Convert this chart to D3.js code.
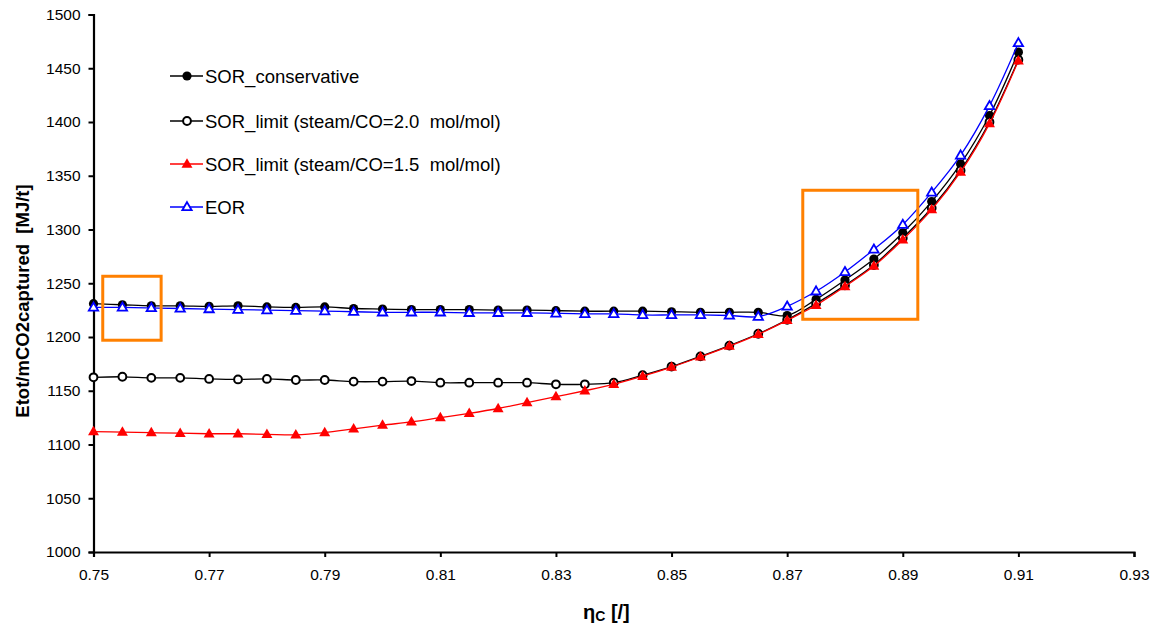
<!DOCTYPE html>
<html>
<head>
<meta charset="utf-8">
<script src="https://cdn.jsdelivr.net/npm/d3@7"></script>
<style>
  body { margin: 0; background: #fff; }
  text { font-family: "Liberation Sans", Arial, sans-serif; white-space: pre; }
</style>
</head>
<body>
<script>
// efficiency values (x)
const etaC = [0.75, 0.755, 0.76, 0.765, 0.77, 0.775, 0.78, 0.785, 0.79, 0.795,
  0.80, 0.805, 0.81, 0.815, 0.82, 0.825, 0.83, 0.835, 0.84, 0.845,
  0.85, 0.855, 0.86, 0.865, 0.87, 0.875, 0.88, 0.885, 0.89, 0.895,
  0.90, 0.905, 0.91];

const sorConservative = [1231, 1230, 1229, 1229, 1228.5, 1229, 1228, 1227.5, 1228, 1226.5,
  1226, 1225.5, 1225.5, 1225.5, 1225, 1225, 1224.5, 1224, 1224, 1224,
  1223.5, 1223, 1223, 1223, 1220, 1235, 1253, 1272.5, 1297, 1326,
  1361, 1406, 1465];

const sorLimit20 = [1162.5, 1163, 1162, 1162, 1161, 1160.5, 1161, 1160, 1160, 1158.5,
  1158.5, 1159, 1157.5, 1157.5, 1157.5, 1157.5, 1156, 1156, 1157.5, 1164.5,
  1172.5, 1182, 1192, 1203, 1216, 1231, 1248, 1267, 1292, 1320,
  1355, 1400, 1458];

const sorLimit15 = [1112, 1111.5, 1111, 1110.5, 1110, 1110, 1109.5, 1109, 1111, 1114.5,
  1118, 1121, 1125, 1129, 1133.5, 1139, 1144.5, 1150, 1156, 1163.5,
  1172, 1181.5, 1191.5, 1202.5, 1215.5, 1229.5, 1247, 1266, 1290.5, 1318.5,
  1353.5, 1398.5, 1457];

const eor = [1227.5, 1227.5, 1227, 1226.5, 1226, 1225.5, 1225, 1224.5, 1224, 1223.5,
  1223, 1223, 1223, 1222.5, 1222.5, 1222.5, 1222, 1221.5, 1221.5, 1220.5,
  1220.5, 1220.5, 1220, 1219, 1228.5, 1242.5, 1260.5, 1281.5, 1304.5, 1334.5,
  1369, 1415, 1473.5];

const seriesNames = ["SOR_conservative", "SOR_limit (steam/CO=2.0  mol/mol)",
  "SOR_limit (steam/CO=1.5  mol/mol)", "EOR"];

const xTicks = [0.75, 0.77, 0.79, 0.81, 0.83, 0.85, 0.87, 0.89, 0.91, 0.93];
const yTicks = [1000, 1050, 1100, 1150, 1200, 1250, 1300, 1350, 1400, 1450, 1500];

// highlight boxes in data units: [x0, x1, y0, y1]
const boxes = [[0.7516, 0.7617, 1197, 1256.5], [0.8727, 0.8926, 1216.5, 1336.5]];

const svgWidth = 1158, svgHeight = 627;
const margin = { top: 14.5, left: 93.5 };
const width = 1134 - margin.left;
const height = 552 - margin.top;

const svg = d3.select("body").append("svg")
  .attr("width", svgWidth)
  .attr("height", svgHeight);

const g = svg.append("g")
  .attr("transform", `translate(${margin.left},${margin.top})`);

const x = d3.scaleLinear().domain([0.75, 0.93]).range([0, width]);
const y = d3.scaleLinear().domain([1000, 1500]).range([height, 0]);

// axes
const xAxis = g.append("g")
  .attr("transform", `translate(0,${height})`)
  .call(d3.axisBottom(x).tickValues(xTicks).tickFormat(d3.format(".2f")).tickSize(5).tickPadding(12));
const yAxis = g.append("g")
  .call(d3.axisLeft(y).tickValues(yTicks).tickFormat(d3.format("d")).tickSize(5).tickPadding(8));

[xAxis, yAxis].forEach(a => {
  a.select(".domain").attr("stroke", "#000").attr("stroke-width", 2.2);
  a.selectAll(".tick line").attr("stroke", "#000").attr("stroke-width", 2);
  a.selectAll(".tick text").attr("fill", "#000").style("font-size", "15.5px")
    .style("font-family", "'Liberation Sans', Arial, sans-serif");
});

const series = [
  { name: seriesNames[0], values: sorConservative, color: "#000", marker: "dot" },
  { name: seriesNames[1], values: sorLimit20, color: "#000", marker: "ring" },
  { name: seriesNames[2], values: sorLimit15, color: "#ff0000", marker: "tri" },
  { name: seriesNames[3], values: eor, color: "#0000ff", marker: "otri" }
];

const line = d3.line()
  .x(d => x(d[0]))
  .y(d => y(d[1]))
  .curve(d3.curveCatmullRom.alpha(0.5));

const triPath = d3.symbol().type(d3.symbolTriangle).size(52)();
const oTriPath = d3.symbol().type(d3.symbolTriangle).size(38)();

function drawMarker(sel, type, color) {
  if (type === "dot") {
    sel.append("circle").attr("r", 4.6).attr("fill", color);
  } else if (type === "ring") {
    sel.append("circle").attr("r", 3.9).attr("fill", "#fff")
      .attr("stroke", color).attr("stroke-width", 2);
  } else if (type === "tri") {
    sel.append("path").attr("d", triPath).attr("fill", color)
      .attr("transform", "translate(0,0.5)");
  } else {
    sel.append("path").attr("d", oTriPath).attr("fill", "#fff")
      .attr("stroke", color).attr("stroke-width", 1.8)
      .attr("transform", "translate(0,0.5)");
  }
}

series.forEach(s => {
  const pts = etaC.map((e, i) => [e, s.values[i]]);
  g.append("path")
    .datum(pts)
    .attr("fill", "none")
    .attr("stroke", s.color)
    .attr("stroke-width", 1.3)
    .attr("d", line);
  g.selectAll(null)
    .data(pts)
    .enter()
    .append("g")
    .attr("transform", d => `translate(${x(d[0])},${y(d[1])})`)
    .each(function () { drawMarker(d3.select(this), s.marker, s.color); });
});

// orange highlight boxes
g.selectAll(".box")
  .data(boxes)
  .enter()
  .append("rect")
  .attr("class", "box")
  .attr("x", d => x(d[0]))
  .attr("y", d => y(d[3]))
  .attr("width", d => x(d[1]) - x(d[0]))
  .attr("height", d => y(d[2]) - y(d[3]))
  .attr("fill", "none")
  .attr("stroke", "#ff8000")
  .attr("stroke-width", 3);

// legend
const legendY = [76, 121, 164, 207];
const legend = svg.append("g");
series.forEach((s, i) => {
  const row = legend.append("g").attr("transform", `translate(170,${legendY[i]})`);
  row.append("line").attr("x1", 0).attr("x2", 33).attr("stroke", s.color).attr("stroke-width", 1.3);
  drawMarker(row.append("g").attr("transform", "translate(17,0)"), s.marker, s.color);
  row.append("text")
    .attr("x", 35)
    .attr("dy", "0.36em")
    .style("font-size", "18.5px")
    .text(s.name);
});

// axis titles
svg.append("text")
  .attr("transform", "translate(29,301) rotate(-90)")
  .attr("text-anchor", "middle")
  .style("font-size", "18.5px")
  .style("font-weight", "bold")
  .text("Etot/mCO2captured  [MJ/t]");

const xt = svg.append("text")
  .attr("x", 583)
  .attr("y", 619)
  .style("font-size", "20px")
  .style("font-weight", "bold");
xt.append("tspan").text("η");
xt.append("tspan").attr("dy", 2).style("font-size", "14px").text("C");
xt.append("tspan").attr("dy", -2).text(" [/]");
</script>
</body>
</html>
